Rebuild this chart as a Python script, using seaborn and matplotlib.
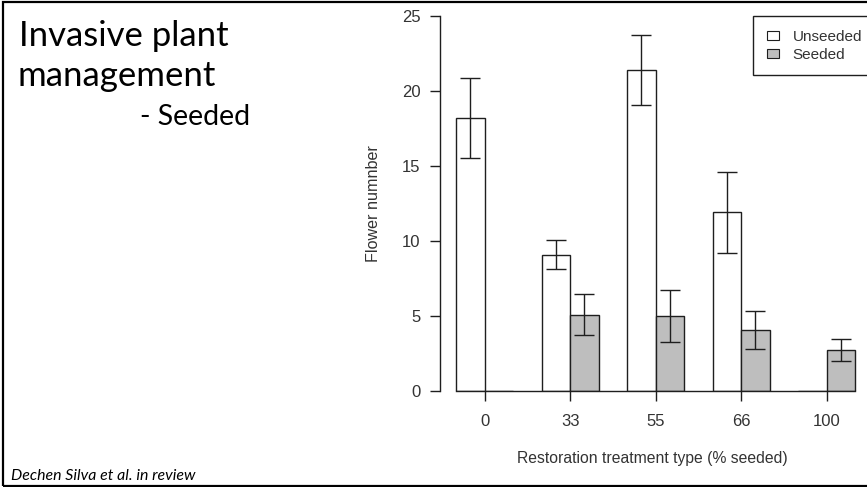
import numpy as np
import pandas as pd
import matplotlib
matplotlib.use("Agg")
import matplotlib.pyplot as plt
import seaborn as sns
from matplotlib.patches import Patch, Rectangle

# ---- data ----
treatments = ["0", "33", "55", "66", "100"]
groups = ["Unseeded", "Seeded"]
unseeded_mean = [18.2, 9.1, 21.4, 11.9, 0.0]
unseeded_err = [2.7, 0.95, 2.3, 2.7, 0.0]
seeded_mean = [0.0, 5.1, 5.0, 4.05, 2.75]
seeded_err = [0.0, 1.35, 1.75, 1.27, 0.72]
yticks = [0, 5, 10, 15, 20, 25]
fill_colors = {"Unseeded": "white", "Seeded": "#bebebe"}

df = pd.DataFrame({
    "treatment": treatments * 2,
    "group": [groups[0]] * len(treatments) + [groups[1]] * len(treatments),
    "mean": unseeded_mean + seeded_mean,
})
errs = {"Unseeded": unseeded_err, "Seeded": seeded_err}

sns.set_theme(style="ticks")
plt.rcParams["font.family"] = ["Liberation Sans", "DejaVu Sans"]

W, H = 867, 487
fig = plt.figure(figsize=(W / 100, H / 100), dpi=100)
fig.patch.set_facecolor("white")

unit = 85.5
xl, xr = -0.523, 4.45
ax_left, ax_top, ax_h = 440, 16, 375
ax_w = (xr - xl) * unit
ax = fig.add_axes([ax_left / W, (H - ax_top - ax_h) / H, ax_w / W, ax_h / H])
ax.set_facecolor("white")

line_c = "#1e1e1e"
text_c = "#333333"

sns.barplot(data=df, x="treatment", y="mean", hue="group", order=treatments,
            hue_order=groups, palette=fill_colors, width=2 / 3, saturation=1,
            edgecolor=line_c, linewidth=1.0, errorbar=None, legend=False, ax=ax)

for cont, g in zip(ax.containers, groups):
    for bar, e in zip(cont, errs[g]):
        if e > 0:
            ax.errorbar(bar.get_x() + bar.get_width() / 2, bar.get_height(), yerr=e,
                        fmt="none", ecolor=line_c, elinewidth=1.0, capsize=7.45,
                        capthick=1.0, zorder=5)

ax.set_xlim(xl, xr)
ax.set_ylim(0, 25)
ax.set_yticks(yticks)
for s in ["top", "right"]:
    ax.spines[s].set_visible(False)
ax.spines["left"].set_bounds(0, 25)
ax.spines["bottom"].set_bounds(-1 / 3, 4 + 1 / 3)
for s in ["left", "bottom"]:
    ax.spines[s].set_color(line_c)
    ax.spines[s].set_linewidth(1.0)

ax.tick_params(axis="both", direction="out", length=7, width=1.0, color=line_c,
               labelsize=12, labelcolor=text_c, pad=7)
ax.tick_params(axis="x", pad=9.5)
ax.set_xlabel("Restoration treatment type (% seeded)", fontsize=11.3, color=text_c, labelpad=16)
ax.set_ylabel("Flower numnber", fontsize=11.6, color=text_c, labelpad=15)

handles = [Patch(facecolor=fill_colors[g], edgecolor=line_c, linewidth=0.8, label=g) for g in groups]
leg = ax.legend(handles=handles, loc="upper left", bbox_to_anchor=(753 / W, 1 - 16 / H),
                bbox_transform=fig.transFigure, borderaxespad=0, fancybox=False,
                framealpha=1, edgecolor=line_c, fontsize=11, handlelength=0.8,
                handleheight=0.55, handletextpad=0.9, borderpad=0.9, labelspacing=0.25)
leg.get_frame().set_linewidth(1.0)
for t in leg.get_texts():
    t.set_color(text_c)

# slide text
tfont = ["Lato", "DejaVu Sans"]
fig.text(19 / W, 1 - 46 / H, "Invasive plant", fontsize=25, family=tfont, va="baseline", color="black")
fig.text(18 / W, 1 - 86 / H, "management", fontsize=25, family=tfont, va="baseline", color="black")
fig.text(140 / W, 1 - 125 / H, "- Seeded", fontsize=20.5, family=tfont, va="baseline", color="black")
fig.text(11 / W, 1 - 480 / H, "Dechen Silva et al. in review", fontsize=11.4, family=tfont,
         style="italic", va="baseline", color="black")

# slide frame
fig.patches.append(Rectangle((3.5 / W, 1.5 / H), 1.0, 484 / H, transform=fig.transFigure,
                             fill=False, edgecolor="black", linewidth=1.6))

fig.savefig("out.png", dpi=100)
